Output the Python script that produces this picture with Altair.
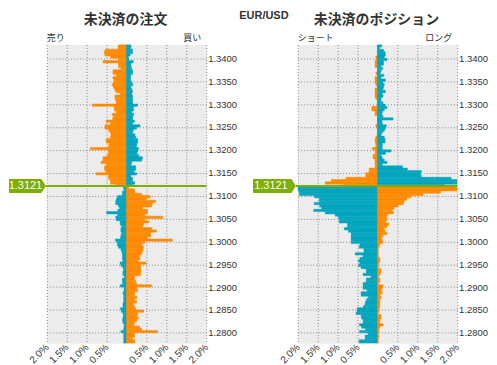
import altair as alt
import pandas as pd

CURRENT = 1.3121
STEP = 0.0005
TOP_LO = 1.3425
N_BUCKETS = 131
bucket_lo = [round(TOP_LO - STEP * i, 4) for i in range(N_BUCKETS)]

# 未決済の注文 (open orders): left side (売り) and right side (買い), % per bucket, top -> bottom
order_left = [
    0.21, 0.21, 0.54, 0.56, 0.54, 0.40, 0.20, 0.59, 0.20, 0.20,
    0.14, 0.34, 0.34, 0.25, 0.34, 0.31, 0.33, 0.36, 0.33, 0.30,
    0.27, 0.16, 0.29, 0.29, 0.27, 0.25, 0.86, 0.31, 0.30, 0.26,
    0.36, 0.33, 0.35, 0.51, 0.40, 0.54, 0.54, 0.45, 0.40, 0.39,
    0.40, 0.51, 0.51, 0.44, 0.45, 0.91, 0.45, 0.45, 0.49, 0.59,
    0.59, 0.64, 0.51, 0.55, 0.55, 0.52, 0.76, 0.45, 0.45, 0.40,
    0.40, 0.24, 0.08, 0.06, 0.10, 0.10, 0.22, 0.25, 0.27, 0.27,
    0.20, 0.17, 0.22, 0.50, 0.22, 0.27, 0.26, 0.16, 0.16, 0.12,
    0.14, 0.14, 0.12, 0.14, 0.15, 0.28, 0.23, 0.23, 0.20, 0.14,
    0.12, 0.10, 0.10, 0.10, 0.09, 0.16, 0.14, 0.09, 0.07, 0.09,
    0.09, 0.05, 0.10, 0.10, 0.10, 0.16, 0.06, 0.06, 0.09, 0.07,
    0.07, 0.07, 0.07, 0.09, 0.09, 0.15, 0.13, 0.09, 0.08, 0.09,
    0.10, 0.09, 0.06, 0.06, 0.07, 0.14, 0.07, 0.07, 0.07, 0.07,
    0.07,
]
order_right = [
    0.11, 0.11, 0.15, 0.15, 0.09, 0.05, 0.06, 0.17, 0.11, 0.11,
    0.13, 0.15, 0.15, 0.11, 0.10, 0.10, 0.13, 0.16, 0.11, 0.13,
    0.15, 0.13, 0.15, 0.15, 0.15, 0.15, 0.28, 0.17, 0.18, 0.13,
    0.18, 0.16, 0.15, 0.20, 0.15, 0.34, 0.25, 0.17, 0.15, 0.21,
    0.23, 0.28, 0.28, 0.26, 0.25, 0.30, 0.28, 0.26, 0.31, 0.40,
    0.38, 0.13, 0.11, 0.23, 0.23, 0.19, 0.25, 0.11, 0.15, 0.15,
    0.21, 0.15, 0.05, 0.20, 0.21, 0.38, 0.60, 0.50, 0.73, 0.65,
    0.63, 0.40, 0.53, 0.52, 0.46, 0.91, 0.46, 0.56, 0.43, 0.40,
    0.63, 0.75, 0.60, 0.61, 0.53, 1.15, 0.46, 0.38, 0.42, 0.42,
    0.40, 0.38, 0.33, 0.34, 0.29, 0.49, 0.36, 0.35, 0.36, 0.36,
    0.35, 0.20, 0.20, 0.23, 0.25, 0.63, 0.26, 0.28, 0.21, 0.20,
    0.26, 0.20, 0.26, 0.17, 0.20, 0.23, 0.43, 0.28, 0.27, 0.30,
    0.26, 0.21, 0.18, 0.33, 0.38, 0.78, 0.20, 0.20, 0.15, 0.21,
    0.21,
]
# 未決済のポジション (open positions): left side (ショート) and right side (ロング)
pos_left = [
    0, 0, 0, 0, 0, 0.04, 0.04, 0.06, 0.06, 0.06,
    0, 0, 0.04, 0, 0.06, 0.06, 0.06, 0.04, 0, 0.06,
    0.06, 0.06, 0.06, 0.04, 0, 0, 0, 0.14, 0.14, 0.06,
    0.06, 0, 0, 0, 0, 0.04, 0, 0, 0, 0,
    0.04, 0.06, 0.06, 0.04, 0.04, 0.13, 0.06, 0.06, 0.11, 0.11,
    0.06, 0.06, 0.06, 0.06, 0.21, 0.21, 0.29, 0.29, 0.79, 1.16,
    1.31, 0.85, 2.0, 2.0, 1.96, 1.96, 1.58, 1.46, 1.46, 1.59,
    1.45, 1.40, 1.60, 1.31, 1.06, 0.98, 0.96, 0.96, 0.75, 0.75,
    0.83, 0.73, 0.66, 0.66, 0.66, 0.66, 0.66, 0.44, 0.46, 0.34,
    0.34, 0.56, 0.36, 0.44, 0.48, 0.44, 0.48, 0.41, 0.28, 0.28,
    0.36, 0.16, 0.28, 0.28, 0.36, 0.36, 0.36, 0.26, 0.41, 0.41,
    0.23, 0.27, 0.30, 0.31, 0.35, 0.51, 0.51, 0.54, 0.41, 0.40,
    0.36, 0.36, 0.45, 0.40, 0.30, 0.45, 0.23, 0.31, 0.31, 0.46,
    0.46,
]
pos_right = [
    0.11, 0.05, 0.15, 0.19, 0.20, 0.17, 0.24, 0.15, 0.15, 0.09,
    0.13, 0.09, 0.07, 0.16, 0.09, 0.20, 0.14, 0.17, 0.15, 0.14,
    0.20, 0.12, 0.14, 0.09, 0.09, 0.14, 0.19, 0.24, 0.17, 0.12,
    0.11, 0.14, 0.39, 0.11, 0.12, 0.22, 0.20, 0.17, 0.12, 0.09,
    0.17, 0.19, 0.19, 0.12, 0.12, 0.12, 0.34, 0.20, 0.09, 0.12,
    0.17, 0.24, 0.12, 0.63, 0.75, 1.10, 1.08, 1.10, 1.85, 2.0,
    2.0, 1.67, 2.0, 2.0, 1.58, 1.15, 0.84, 0.74, 0.67, 0.65,
    0.52, 0.42, 0.37, 0.40, 0.25, 0.23, 0.24, 0.20, 0.29, 0.24,
    0.17, 0.19, 0.24, 0.14, 0.10, 0.12, 0.14, 0.06, 0.04, 0.02,
    0.02, 0.02, 0.02, 0.06, 0.06, 0.04, 0.02, 0.02, 0.09, 0.09,
    0.06, 0.02, 0.06, 0.06, 0.02, 0.14, 0.12, 0.10, 0.12, 0.06,
    0.09, 0.06, 0.06, 0.06, 0.06, 0.04, 0.04, 0.02, 0.09, 0.09,
    0.06, 0.06, 0.14, 0.06, 0.04, 0.04, 0.02, 0.04, 0.02, 0.02,
    0.02,
]

x_ticks = [-2.0, -1.5, -1.0, -0.5, 0.0, 0.5, 1.0, 1.5, 2.0]
y_ticks = [1.280, 1.285, 1.290, 1.295, 1.300, 1.305, 1.310, 1.315,
           1.320, 1.325, 1.330, 1.335, 1.340]

ORANGE = "#FF8A00"
TEAL = "#03A5BE"
GREEN = "#7DAE00"
TXT = "#333333"
JP = "Noto Sans CJK JP"
LAT = "Liberation Sans"
W, H = 160, 300
Y_DOMAIN = [1.2777, 1.3430]
GROUPS = ["above_left", "above_right", "below_left", "below_right"]
GROUP_COLORS = [ORANGE, TEAL, TEAL, ORANGE]


def bars_frame(left, right):
    rows = []
    for lo, l, r in zip(bucket_lo, left, right):
        above = lo >= 1.3120 - 1e-9
        tag = "above" if above else "below"
        rows.append(dict(lo=lo, hi=lo + STEP, x0=0.0, x1=-l, grp=tag + "_left"))
        rows.append(dict(lo=lo, hi=lo + STEP, x0=0.0, x1=r, grp=tag + "_right"))
    return pd.DataFrame(rows)


def txt(s, x, y, size, weight="normal", align="left", baseline="bottom", font=JP):
    return alt.Chart(pd.DataFrame({"t": [s]})).mark_text(
        fontSize=size, fontWeight=weight, align=align, baseline=baseline,
        font=font, color=TXT
    ).encode(x=alt.value(x), y=alt.value(y), text="t:N")


def panel(left, right, title, lab_l, lab_r, box_left, box_right, text_cx, extra=None):
    yscale = alt.Scale(domain=Y_DOMAIN, nice=False, zero=False)
    yaxis = alt.Axis(orient="right", values=y_ticks, format=".4f", title=None,
                     grid=True, domain=False, ticks=False, labelPadding=1.5,
                     labelFontSize=9.5, labelOverlap=False)
    cscale = alt.Scale(domain=GROUPS, range=GROUP_COLORS)
    bars = alt.Chart(bars_frame(left, right)).mark_rect(clip=True, strokeWidth=0.5).encode(
        x=alt.X("x0:Q", scale=alt.Scale(domain=[-2, 2], nice=False),
                axis=alt.Axis(values=x_ticks, title=None, grid=True, ticks=False, domain=False,
                              labelExpr="datum.value == 0 ? '' : format(abs(datum.value), '.1f') + '%'",
                              labelAngle=-45, labelAlign="right", labelBaseline="middle",
                              labelPadding=2, labelFontSize=10, labelOverlap=False)),
        x2="x1:Q",
        y=alt.Y("lo:Q", scale=yscale, axis=yaxis),
        y2="hi:Q",
        color=alt.Color("grp:N", scale=cscale, legend=None),
        stroke=alt.Stroke("grp:N", scale=cscale, legend=None),
    )
    price_df = pd.DataFrame({"price": [CURRENT], "label": [f"{CURRENT:.4f}"]})
    ybase = alt.Y("price:Q", scale=yscale, axis=yaxis)
    rule = alt.Chart(price_df).mark_rule(color=GREEN, strokeWidth=2).encode(
        x=alt.value(box_right), x2=alt.value(W), y=ybase)
    bw = box_right - box_left
    r = bw / 2.0
    body = (bw - 4.5) / r - 1
    hh = 7.0 / r
    shape = f"M -1 {-hh:.3f} L {body:.3f} {-hh:.3f} L 1 0 L {body:.3f} {hh:.3f} L -1 {hh:.3f} Z"
    box = alt.Chart(price_df).mark_point(
        shape=shape, size=bw * bw, filled=True, fill=GREEN, opacity=1, strokeWidth=0
    ).encode(x=alt.value(box_left + r), y=ybase)
    label = alt.Chart(price_df).mark_text(
        color="white", fontSize=11, font=LAT, align="center", baseline="middle"
    ).encode(x=alt.value(text_cx), y=ybase, text="label:N")
    layers = [bars, rule, box, label,
              txt(title, W / 2 - 1, -25, 14, weight="bold", align="center", baseline="middle"),
              txt(lab_l, 0, -2, 9),
              txt(lab_r, W - 5, -2, 9, align="right")]
    if extra is not None:
        layers.append(extra)
    return alt.layer(*layers).properties(width=W, height=H)


left_panel = panel(order_left, order_right, "未決済の注文", "売り", "買い",
                   box_left=-38, box_right=-1, text_cx=-21.5,
                   extra=txt("EUR/USD", 218, -35, 11, weight="bold", align="center",
                             baseline="top", font=LAT))
right_panel = panel(pos_left, pos_right, "未決済のポジション", "ショート", "ロング",
                    box_left=-45, box_right=-2, text_cx=-27)

chart = alt.hconcat(left_panel, right_panel, spacing=92, bounds="flush", padding=0).configure_view(
    fill="#ECECEC", stroke="transparent"
).configure_axis(
    gridColor="#8a8a8a", gridDash=[1, 2], gridWidth=1, labelColor=TXT, labelFont=LAT
)

chart.save("out.html", embed_options={"renderer": "svg", "actions": False})
